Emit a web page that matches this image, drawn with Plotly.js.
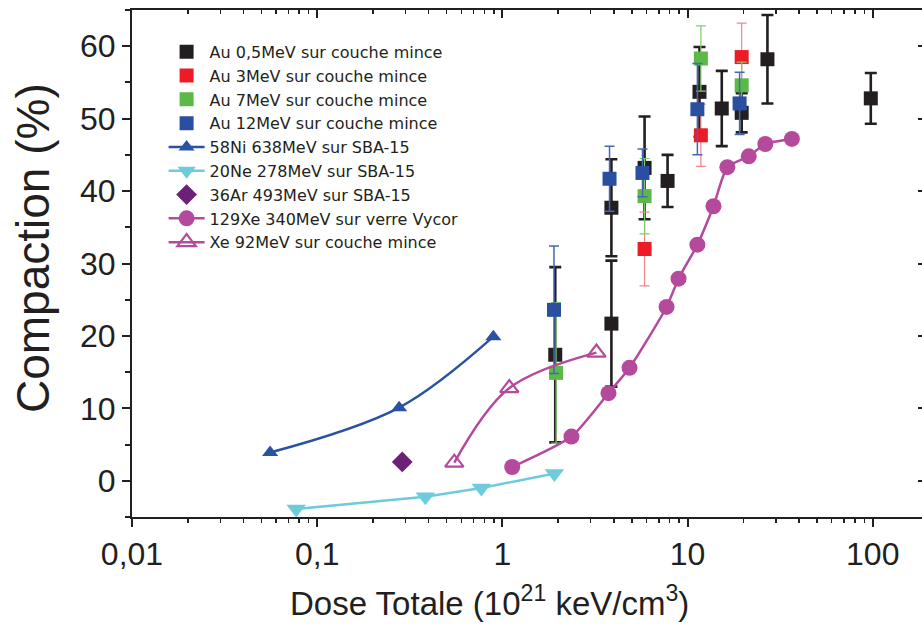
<!DOCTYPE html>
<html>
<head>
<meta charset="utf-8">
<script src="https://cdn.plot.ly/plotly-3.0.1.min.js"></script>
<style>html,body{margin:0;padding:0;background:#fff;}#chart{width:922px;height:624px;}</style>
</head>
<body>
<div id="chart"></div>
<script>
// ---- data ----
const seriesNames = [
  "Au 0,5MeV sur couche mince",
  "Au 3MeV sur couche mince",
  "Au 7MeV sur couche mince",
  "Au 12MeV sur couche mince",
  "58Ni 638MeV sur SBA-15",
  "20Ne 278MeV sur SBA-15",
  "36Ar 493MeV sur SBA-15",
  "129Xe 340MeV sur verre Vycor",
  "Xe 92MeV sur couche mince"
];
const au05X = [1.93, 3.88, 3.88, 5.86, 7.8, 11.6, 15.3, 19.6, 27, 97.6];
const au05Y = [17.4, 21.7, 37.7, 43.2, 41.4, 53.7, 51.4, 50.8, 58.2, 52.8];
const au05E = [12.1, 8.7, 6.7, 7.1, 3.6, 6.2, 5.2, 2.7, 6.1, 3.5];
const au3X = [5.86, 11.8, 19.6];
const au3Y = [32.0, 47.7, 58.5];
const au3E = [5.1, 4.3, 4.7];
const au7X = [1.95, 5.86, 11.8, 19.6];
const au7Y = [14.9, 39.3, 58.3, 54.6];
const au7E = [9.7, 5.2, 4.5, 3.2];
const au12X = [1.9, 3.79, 5.71, 11.3, 19.1];
const au12Y = [23.6, 41.7, 42.5, 51.3, 52.1];
const au12E = [8.8, 4.5, 3.3, 6.3, 4.3];
const niX = [0.0557, 0.277, 0.894];
const niY = [3.9, 10.1, 19.9];
const neX = [0.077, 0.384, 0.77, 1.91];
const neY = [-3.9, -2.2, -1.0, 1.0];
const arX = [0.288];
const arY = [2.6];
const xe129X = [1.13, 2.36, 3.74, 4.86, 7.7, 8.94, 11.3, 13.8, 16.4, 21.4, 26.3, 36.6];
const xe129Y = [1.9, 6.1, 12.1, 15.6, 24.0, 27.9, 32.6, 37.9, 43.3, 44.8, 46.5, 47.2];
const xe92X = [0.55, 1.09, 3.22];
const xe92Y = [2.5, 12.8, 17.7];

const xTickVals = [0.01, 0.1, 1, 10, 100];
const xTickText = ["0,01", "0,1", "1", "10", "100"];
const yTickVals = [0, 10, 20, 30, 40, 50, 60];
const yTickText = ["0", "10", "20", "30", "40", "50", "60"];
const xTitle = "Dose Totale (10<sup>21</sup> keV/cm<sup>3</sup>)";
const yTitle = "Compaction (%)";

// minor log ticks (axis decoration)
const xMinor = [];
[0.01, 0.1, 1, 10, 100].forEach(d => { for (let k = 2; k <= 9; k++) { const v = d * k; if (v < 185) xMinor.push(v); } });

const INK = "#231f20";
const SANS = "Liberation Sans, Arial, sans-serif";
function auTrace(name, x, y, e, col, ecol, eth, ew) {
  return {
    type: "scatter", mode: "markers", name: name, x: x, y: y,
    marker: {symbol: "square", size: 14, color: col},
    error_y: {type: "data", array: e, visible: true, color: ecol, thickness: eth, width: ew},
    cliponaxis: false
  };
}
const traces = [
  auTrace(seriesNames[0], au05X, au05Y, au05E, INK, INK, 2.6, 6),
  auTrace(seriesNames[1], au3X, au3Y, au3E, "#ed1c24", "#f2848b", 1.2, 5),
  auTrace(seriesNames[2], au7X, au7Y, au7E, "#5cb947", "#7fcb6a", 1.2, 5),
  auTrace(seriesNames[3], au12X, au12Y, au12E, "#2b4fa0", "#4467b3", 1.5, 5),
  {type: "scatter", mode: "lines+markers", name: seriesNames[4], x: niX, y: niY,
   line: {color: "#2a52a3", width: 2.5, shape: "spline", smoothing: 1},
   marker: {symbol: "triangle-up", size: 14, color: "#2a52a3"}},
  {type: "scatter", mode: "lines+markers", name: seriesNames[5], x: neX, y: neY,
   line: {color: "#6ecbdc", width: 2.5},
   marker: {symbol: "triangle-down", size: 17, color: "#6ecbdc"}, cliponaxis: false},
  {type: "scatter", mode: "markers", name: seriesNames[6], x: arX, y: arY,
   marker: {symbol: "diamond", size: 16, color: "#6d2077"}},
  {type: "scatter", mode: "lines+markers", name: seriesNames[7], x: xe129X, y: xe129Y,
   line: {color: "#b5499c", width: 2.5, shape: "spline", smoothing: 0.6},
   marker: {symbol: "circle", size: 16, color: "#b5499c"}},
  {type: "scatter", mode: "lines+markers", name: seriesNames[8], x: xe92X, y: xe92Y,
   line: {color: "#b5499c", width: 2.5, shape: "spline", smoothing: 1},
   marker: {symbol: "triangle-up-open", size: 16, color: "#b5499c", line: {width: 2.2, color: "#b5499c"}}},
  {type: "scatter", mode: "markers", x: [], y: [], xaxis: "x2", yaxis: "y2", showlegend: false, hoverinfo: "skip"}
];

const layout = {
  width: 922, height: 624,
  margin: {l: 132, r: 0, t: 10, b: 107},
  paper_bgcolor: "#fff", plot_bgcolor: "#fff",
  separators: ", ",
  showlegend: true,
  font: {family: SANS, color: INK},
  legend: {
    x: 0.04, y: 0.951, xanchor: "left", yanchor: "top",
    bgcolor: "rgba(0,0,0,0)", borderwidth: 0,
    font: {size: 16, family: "DejaVu Sans, Liberation Sans, sans-serif", color: INK},
    itemwidth: 36, tracegroupgap: 0
  },
  annotations: [
    {text: xTitle, xref: "paper", yref: "paper", x: 0.453, y: -0.166, xanchor: "center", yanchor: "middle",
     showarrow: false, font: {size: 33, family: SANS, color: INK}},
    {text: yTitle, xref: "paper", yref: "paper", x: -0.1253, y: 0.5306, xanchor: "center", yanchor: "middle",
     textangle: -90, showarrow: false, font: {size: 46, family: SANS, color: INK}}
  ],
  xaxis: {
    type: "log", range: [-2, 2.266], showgrid: false, zeroline: false,
    tickmode: "array", tickvals: xTickVals, ticktext: xTickText,
    ticks: "outside", ticklen: 8, tickwidth: 2, tickcolor: INK,
    showline: true, linewidth: 2, linecolor: INK,
    tickfont: {size: 32, family: SANS, color: INK},
    minor: {tickmode: "array", tickvals: xMinor, ticks: "outside", ticklen: 4, tickwidth: 1.5, tickcolor: INK}
  },
  yaxis: {
    range: [-5, 65], showgrid: false, zeroline: false,
    tickmode: "array", tickvals: yTickVals, ticktext: yTickText,
    ticks: "outside", ticklen: 8, tickwidth: 2, tickcolor: INK,
    showline: true, linewidth: 2, linecolor: INK,
    tickfont: {size: 32, family: SANS, color: INK},
    minor: {dtick: 5, tick0: 5, ticks: "outside", ticklen: 5, tickwidth: 2, tickcolor: INK}
  },
  xaxis2: {
    type: "log", range: [-2, 2.266], overlaying: "x", side: "top", anchor: "y",
    showgrid: false, zeroline: false, showticklabels: false,
    tickmode: "array", tickvals: xTickVals,
    ticks: "inside", ticklen: 8, tickwidth: 2, tickcolor: INK,
    showline: true, linewidth: 2, linecolor: INK,
    minor: {tickmode: "array", tickvals: xMinor, ticks: "inside", ticklen: 4, tickwidth: 1.5, tickcolor: INK}
  },
  yaxis2: {
    range: [-5, 65], overlaying: "y", side: "right", anchor: "x",
    showgrid: false, zeroline: false, showticklabels: false,
    tickmode: "array", tickvals: yTickVals,
    ticks: "inside", ticklen: 4, tickwidth: 2, tickcolor: INK,
    showline: false
  }
};

Plotly.newPlot("chart", traces, layout, {displayModeBar: false, staticPlot: true});
</script>
</body>
</html>
